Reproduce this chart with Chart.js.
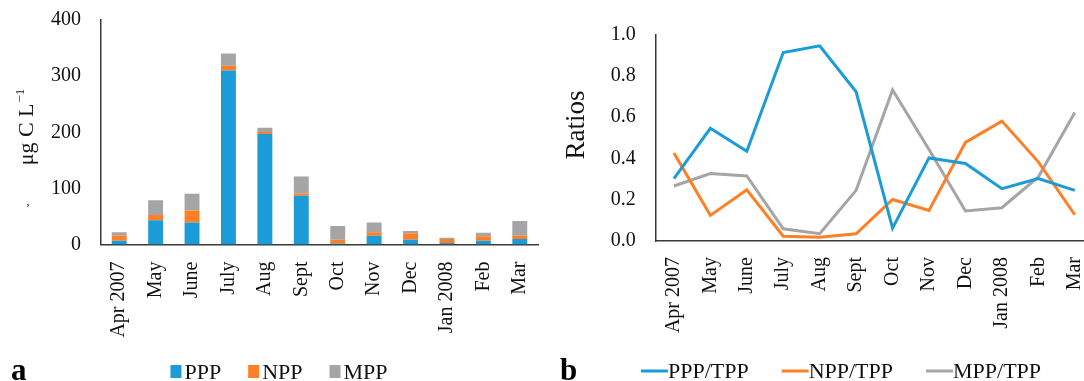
<!DOCTYPE html>
<html><head><meta charset="utf-8">
<script src="https://cdn.jsdelivr.net/npm/chart.js@4/dist/chart.umd.min.js"></script>
<style>
html,body{margin:0;padding:0;overflow:hidden;background:#fff;width:1084px;height:381px;position:relative;}
#ca{position:absolute;left:0;top:0;}
#cb{position:absolute;left:540px;top:0;}
</style></head><body>
<canvas id="ca" width="540" height="381"></canvas>
<canvas id="cb" width="560" height="381"></canvas>
<script>
const months = ['Apr 2007','May','June','July','Aug','Sept','Oct','Nov','Dec','Jan 2008','Feb','Mar'];
const ppp = [6.5, 43, 39, 310, 197, 87, 2, 15.5, 8.5, 2.5, 6.5, 10];
const npp = [9.5, 9.5, 21.5, 8.5, 3.5, 4, 6.5, 6.5, 11.5, 7.5, 8, 5.5];
const mpp = [6, 26.5, 30, 22, 7.5, 30, 24.5, 17, 4, 2, 6.5, 26.5];
const pppTpp = [0.302, 0.545, 0.434, 0.912, 0.944, 0.722, 0.062, 0.402, 0.375, 0.253, 0.302, 0.245];
const nppTpp = [0.426, 0.124, 0.248, 0.023, 0.018, 0.035, 0.201, 0.148, 0.477, 0.580, 0.383, 0.127];
const mppTpp = [0.266, 0.326, 0.315, 0.059, 0.035, 0.245, 0.731, 0.443, 0.145, 0.161, 0.310, 0.622];
const concTicks = [0, 100, 200, 300, 400];
const ratioTicks = [0, 0.2, 0.4, 0.6, 0.8, 1.0];

const BLUE = '#1b9bd7', ORANGE = '#ff7f27', GRAY = '#a5a5a5';
const SERIF = "'Liberation Serif', 'Times New Roman', serif";
const AXIS = '#383838';
const TXT = '#111';

const decor = {
  id: 'decor',
  afterDraw(chart, args, o) {
    const ctx = chart.ctx;
    ctx.save();
    ctx.fillStyle = TXT;
    if (o.yTitle) {
      const t = o.yTitle;
      ctx.save();
      ctx.translate(t.x, t.y);
      ctx.rotate(-Math.PI / 2);
      ctx.textBaseline = 'alphabetic';
      ctx.textAlign = 'left';
      ctx.font = t.size + 'px ' + SERIF;
      const w1 = ctx.measureText(t.text).width;
      let w2 = 0;
      if (t.sup) { ctx.font = t.supSize + 'px ' + SERIF; w2 = ctx.measureText(t.sup).width + 1; }
      const start = -(w1 + w2) / 2;
      ctx.font = t.size + 'px ' + SERIF;
      ctx.fillText(t.text, start, 0);
      if (t.sup) { ctx.font = t.supSize + 'px ' + SERIF; ctx.fillText(t.sup, start + w1 + 1, -t.size * 0.4); }
      ctx.restore();
    }
    if (o.mark) {
      ctx.font = '12px ' + SERIF;
      ctx.textAlign = 'center';
      ctx.fillText(o.mark.text, o.mark.x, o.mark.y);
    }
    if (o.legend) {
      const L = o.legend;
      ctx.font = L.size + 'px ' + SERIF;
      const items = chart.data.datasets.map(ds => ({
        label: ds.label,
        color: L.kind === 'box' ? ds.backgroundColor : ds.borderColor,
        w: ctx.measureText(ds.label).width
      }));
      const total = items.reduce((s, it) => s + L.mark + L.gap + it.w, 0) + L.spacing * (items.length - 1);
      let x = L.cx - total / 2;
      items.forEach(it => {
        if (L.kind === 'box') {
          ctx.fillStyle = it.color;
          ctx.fillRect(x, L.boxTop, L.mark, L.boxH);
        } else {
          ctx.strokeStyle = it.color; ctx.lineWidth = 3;
          ctx.beginPath(); ctx.moveTo(x, L.lineY); ctx.lineTo(x + L.mark, L.lineY); ctx.stroke();
        }
        ctx.fillStyle = TXT; ctx.textAlign = 'left'; ctx.textBaseline = 'alphabetic';
        ctx.fillText(it.label, x + L.mark + L.gap, L.baseline);
        x += L.mark + L.gap + it.w + L.spacing;
      });
    }
    if (o.panel) {
      ctx.fillStyle = '#000';
      ctx.font = 'bold 31px ' + SERIF;
      ctx.textAlign = 'left'; ctx.textBaseline = 'alphabetic';
      ctx.fillText(o.panel.text, o.panel.x, o.panel.y);
    }
    ctx.restore();
  }
};

const tickFont = { family: SERIF, size: 20 };
const fixX = h => s => { s.height = h; s.paddingLeft = 0; s.paddingRight = 0; };
const fixY = w => s => { s.width = w; s.paddingTop = 0; s.paddingBottom = 0; };

new Chart(document.getElementById('ca'), {
  type: 'bar',
  data: {
    labels: months,
    datasets: [
      { label: 'PPP', data: ppp, backgroundColor: BLUE },
      { label: 'NPP', data: npp, backgroundColor: ORANGE },
      { label: 'MPP', data: mpp, backgroundColor: GRAY }
    ]
  },
  options: {
    responsive: false, animation: false, devicePixelRatio: 1,
    layout: { padding: { top: 20, right: 2, bottom: 0, left: 0 } },
    datasets: { bar: { categoryPercentage: 1, barPercentage: 0.41 } },
    plugins: {
      legend: { display: false }, tooltip: { enabled: false },
      decor: {
        yTitle: { text: 'μg C L', sup: '−1', size: 22, supSize: 13, x: 33, y: 127 },
        mark: { text: ',', x: 28, y: 205 },
        legend: { kind: 'box', cx: 279, mark: 11, gap: 3, spacing: 27, boxTop: 365, boxH: 13, baseline: 378.5, size: 22 },
        panel: { text: 'a', x: 11, y: 380 }
      }
    },
    scales: {
      x: {
        stacked: true, offset: true,
        grid: { display: false, drawTicks: false },
        border: { display: true, color: AXIS, width: 1.5 },
        ticks: { font: tickFont, color: TXT, maxRotation: 90, minRotation: 90, padding: 17, autoSkip: false },
        afterFit: fixX(381 - 244.5)
      },
      y: {
        stacked: true, min: 0, max: 400,
        grid: { display: false, drawTicks: false },
        border: { display: true, color: AXIS, width: 1.5 },
        ticks: { font: tickFont, color: TXT, padding: 20 },
        afterBuildTicks: s => { s.ticks = concTicks.map(v => ({ value: v })); },
        afterFit: fixY(101)
      }
    }
  },
  plugins: [decor]
});

new Chart(document.getElementById('cb'), {
  type: 'line',
  data: {
    labels: months,
    datasets: [
      { label: 'PPP/TPP', data: pppTpp, borderColor: BLUE, backgroundColor: BLUE },
      { label: 'NPP/TPP', data: nppTpp, borderColor: ORANGE, backgroundColor: ORANGE },
      { label: 'MPP/TPP', data: mppTpp, borderColor: GRAY, backgroundColor: GRAY }
    ]
  },
  options: {
    responsive: false, animation: false, devicePixelRatio: 1,
    layout: { padding: { top: 34.3, right: 7, bottom: 0, left: 0 } },
    elements: { line: { borderWidth: 3, tension: 0, borderJoinStyle: 'miter' }, point: { radius: 0 } },
    plugins: {
      legend: { display: false }, tooltip: { enabled: false },
      decor: {
        yTitle: { text: 'Ratios', size: 27, x: 43.5, y: 125 },
        legend: { kind: 'line', cx: 301, mark: 27, gap: 0, spacing: 33, lineY: 371, baseline: 377.5, size: 22 },
        panel: { text: 'b', x: 20, y: 380 }
      }
    },
    scales: {
      x: {
        offset: true,
        grid: { display: false, drawTicks: false },
        border: { display: true, color: AXIS, width: 1.5 },
        ticks: { font: tickFont, color: TXT, maxRotation: 90, minRotation: 90, padding: 16, autoSkip: false },
        afterFit: fixX(381 - 241)
      },
      y: {
        min: 0, max: 1,
        grid: { display: false, drawTicks: false },
        border: { display: true, color: AXIS, width: 1.5 },
        ticks: { font: tickFont, color: TXT, padding: 20, callback: v => Number(v).toFixed(1) },
        afterBuildTicks: s => { s.ticks = ratioTicks.map(v => ({ value: v })); },
        afterFit: fixY(115.7)
      }
    }
  },
  plugins: [decor]
});
</script>
</body></html>
